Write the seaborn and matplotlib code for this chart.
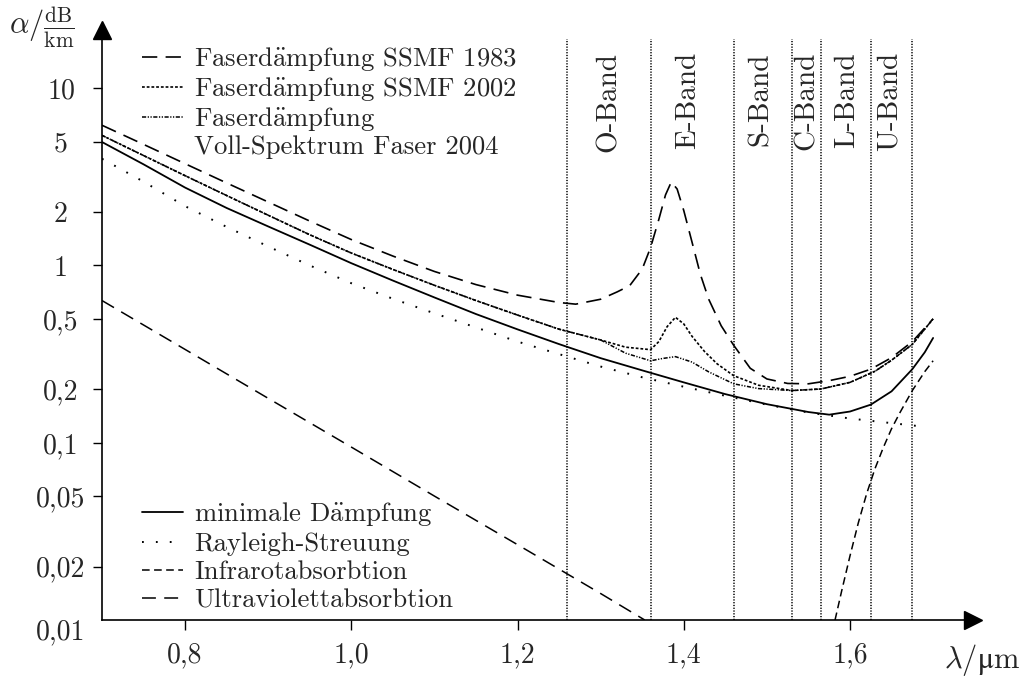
import matplotlib
matplotlib.use("Agg")
import matplotlib.pyplot as plt
import seaborn as sns
import numpy as np
import pandas as pd
from matplotlib.lines import Line2D
from matplotlib.ticker import NullLocator

# ---------------- data ----------------
lam_min = [0.70, 0.75, 0.80, 0.85, 0.90, 0.95, 1.00, 1.05, 1.10, 1.15, 1.20, 1.25,
           1.30, 1.35, 1.40, 1.45, 1.50, 1.55, 1.575, 1.60, 1.625, 1.65, 1.675, 1.69, 1.70]
att_min = [4.97, 3.72, 2.75, 2.11, 1.66, 1.31, 1.03, 0.822, 0.66, 0.532, 0.436, 0.36,
           0.30, 0.256, 0.219, 0.188, 0.165, 0.149, 0.144, 0.150, 0.164, 0.195, 0.26, 0.324, 0.39]

lam_ray = [0.70, 0.75, 0.80, 0.85, 0.90, 0.95, 1.00, 1.05, 1.10, 1.15, 1.20, 1.25,
           1.30, 1.35, 1.40, 1.45, 1.50, 1.55, 1.60, 1.65, 1.69]
att_ray = [4.0, 2.97, 2.16, 1.65, 1.28, 1.00, 0.794, 0.649, 0.537, 0.447, 0.372, 0.316,
           0.269, 0.234, 0.207, 0.184, 0.164, 0.148, 0.137, 0.129, 0.123]

lam_1983 = [0.70, 0.75, 0.80, 0.85, 0.90, 0.95, 1.00, 1.05, 1.10, 1.15, 1.20, 1.25, 1.27,
            1.30, 1.32, 1.335, 1.35, 1.36, 1.37, 1.378, 1.385, 1.392, 1.40, 1.41, 1.42,
            1.43, 1.445, 1.46, 1.48, 1.50, 1.525, 1.55, 1.575, 1.60, 1.625, 1.65, 1.675, 1.70]
att_1983 = [6.18, 4.82, 3.75, 2.92, 2.28, 1.78, 1.40, 1.13, 0.925, 0.78, 0.68, 0.618, 0.605,
            0.645, 0.71, 0.77, 0.955, 1.26, 1.82, 2.5, 2.96, 2.7, 2.04, 1.35, 0.89,
            0.645, 0.457, 0.355, 0.263, 0.229, 0.216, 0.215, 0.224, 0.237, 0.26, 0.302, 0.372, 0.50]

lam_2004 = [0.70, 0.75, 0.80, 0.85, 0.90, 0.95, 1.00, 1.05, 1.10, 1.15, 1.20, 1.25, 1.30,
            1.33, 1.36, 1.375, 1.39, 1.41, 1.43, 1.46, 1.49, 1.53, 1.565, 1.60, 1.63, 1.65,
            1.675, 1.70]
att_2004 = [5.42, 4.17, 3.21, 2.48, 1.92, 1.49, 1.175, 0.95, 0.773, 0.634, 0.525, 0.437, 0.38,
            0.32, 0.29, 0.299, 0.306, 0.285, 0.251, 0.215, 0.202, 0.197, 0.201, 0.219, 0.253, 0.292,
            0.359, 0.50]

lam_2002 = [0.70, 0.75, 0.80, 0.85, 0.90, 0.95, 1.00, 1.05, 1.10, 1.15, 1.20, 1.25, 1.30,
            1.33, 1.36, 1.37, 1.38, 1.39, 1.40, 1.41, 1.425, 1.44, 1.46, 1.49, 1.53, 1.565,
            1.60, 1.63, 1.65, 1.675, 1.70]
att_2002 = [5.42, 4.17, 3.21, 2.48, 1.92, 1.49, 1.175, 0.95, 0.773, 0.634, 0.525, 0.437, 0.38,
            0.346, 0.335, 0.372, 0.452, 0.51, 0.468, 0.398, 0.327, 0.279, 0.239, 0.211, 0.197, 0.201,
            0.219, 0.253, 0.292, 0.359, 0.50]

lam_uv = [0.70, 0.80, 0.90, 1.00, 1.10, 1.20, 1.30, 1.353]
att_uv = [0.634, 0.336, 0.178, 0.0945, 0.050, 0.0266, 0.0141, 0.010]

lam_ir = [1.582, 1.59, 1.60, 1.61, 1.62, 1.63, 1.64, 1.65, 1.66, 1.675, 1.69, 1.70]
att_ir = [0.010, 0.0146, 0.023, 0.0353, 0.0515, 0.0713, 0.0937, 0.12, 0.1476, 0.197, 0.252, 0.29]

band_edges = [1.26, 1.36, 1.46, 1.53, 1.565, 1.625, 1.675]
band_names = ["O-Band", "E-Band", "S-Band", "C-Band", "L-Band", "U-Band"]
band_label_x = [1.310, 1.405, 1.492, 1.548, 1.596, 1.648]

y_ticks = [0.02, 0.05, 0.1, 0.2, 0.5, 1, 2, 5, 10]
y_ticklabels = ["0,02", "0,05", "0,1", "0,2", "0,5", "1", "2", "5", "10"]
x_ticks = [0.8, 1.0, 1.2, 1.4, 1.6]
x_ticklabels = ["0,8", "1,0", "1,2", "1,4", "1,6"]

AE = r"$\ddot{\mathrm{a}}$"
legend_top = ["Faserd" + AE + "mpfung SSMF 1983", "Faserd" + AE + "mpfung SSMF 2002",
              "Faserd" + AE + "mpfung", "Voll-Spektrum Faser 2004"]
legend_bottom = ["minimale D" + AE + "mpfung", "Rayleigh-Streuung", "Infrarotabsorbtion",
                 "Ultraviolettabsorbtion"]

# ---------------- style ----------------
sns.set_style("ticks")
plt.rcParams["font.family"] = ["cmr10", "DejaVu Serif"]
plt.rcParams["mathtext.fontset"] = "cm"
plt.rcParams["axes.formatter.use_mathtext"] = True
plt.rcParams["lines.scale_dashes"] = False
FS = 20
FS_LEG = 19.2

fig = plt.figure(figsize=(10.27, 6.78), dpi=100)
W, H = 1027, 678
ax = fig.add_axes([102 / W, 1 - 620 / H, 871 / W, 590 / H])

LS_1983 = (0, (11, 6))
LS_2002 = (0, (2.0, 1.4))
LS_2004 = (0, (3.0, 1.1, 0.9, 1.1, 0.9, 1.1))
LS_RAY = (0, (1.3, 8.7))
LS_IR = (0, (5.5, 3.2))
LS_UV = (0, (10, 6))

def draw(lam, att, lw, ls):
    sns.lineplot(x=lam, y=att, ax=ax, color="black", linewidth=lw, linestyle=ls,
                 errorbar=None, legend=False)

draw(lam_uv, att_uv, 1.1, LS_UV)
draw(lam_ir, att_ir, 1.1, LS_IR)
draw(lam_ray, att_ray, 1.4, LS_RAY)
draw(lam_1983, att_1983, 1.2, LS_1983)
draw(lam_2002, att_2002, 1.2, LS_2002)
draw(lam_2004, att_2004, 1.1, LS_2004)
draw(lam_min, att_min, 1.3, "-")

ax.set_yscale("log")
ax.set_xlim(0.7, 1.748)
ax.set_ylim(0.01, 21.3)

# band borders and names
ax.vlines(band_edges, 0.01, 18.9, colors="black", linewidth=1.1, linestyles=[(0, (0.9, 1.1))])
for bx, name in zip(band_label_x, band_names):
    ax.text(bx, 16.0, name, rotation=90, ha="center", va="top", fontsize=21)

# axes / spines
for s in ["top", "right"]:
    ax.spines[s].set_visible(False)
for s in ["left", "bottom"]:
    ax.spines[s].set_linewidth(1.2)
    ax.spines[s].set_color("black")
ax.plot(1, 0, marker=">", color="black", markersize=13, transform=ax.transAxes, clip_on=False)
ax.plot(0, 1, marker="^", color="black", markersize=13, transform=ax.transAxes, clip_on=False)

ax.yaxis.set_minor_locator(NullLocator())
ax.set_yticks(y_ticks)
ax.set_yticklabels(y_ticklabels)
ax.set_xticks(x_ticks)
ax.set_xticklabels(x_ticklabels)
ax.tick_params(axis="y", direction="out", length=6.5, width=1.0, pad=23, labelsize=FS, color="black")
ax.tick_params(axis="x", direction="out", length=7, width=1.0, pad=9, labelsize=FS, color="black")
for lab in ax.get_yticklabels():
    lab.set_ha("center")
ax.annotate("0,01", xy=(0, 0.01), xycoords=("axes fraction", "data"), xytext=(-29.5, -8.5),
            textcoords="offset points", ha="center", va="center", fontsize=FS)

fig.text(42 / W, 1 - 28 / H, r"$\alpha/\frac{\mathrm{dB}}{\mathrm{km}}$", ha="center", va="center",
         fontsize=FS + 2)
fig.text(982 / W, 1 - 660 / H, r"$\lambda/\mathrm{μm}$", ha="center", va="center", fontsize=FS + 2)

# legends
hl = lambda ls, lw: Line2D([], [], color="black", linestyle=ls, linewidth=lw)
leg1 = ax.legend(
    handles=[hl(LS_1983, 1.2), hl(LS_2002, 1.2), hl(LS_2004, 1.1), Line2D([], [], linestyle="none")],
    labels=legend_top,
    loc="upper left", bbox_to_anchor=(142 / W, 1 - 45 / H), bbox_transform=fig.transFigure,
    frameon=False, fontsize=FS_LEG, handlelength=1.55, handletextpad=0.4, labelspacing=0.08,
    borderpad=0, borderaxespad=0)
ax.add_artist(leg1)
ax.legend(
    handles=[hl("-", 1.3), hl(LS_RAY, 1.4), hl(LS_IR, 1.1), hl(LS_UV, 1.1)],
    labels=legend_bottom,
    loc="lower left", bbox_to_anchor=(142 / W, 1 - 612 / H), bbox_transform=fig.transFigure,
    frameon=False, fontsize=FS_LEG, handlelength=1.55, handletextpad=0.4, labelspacing=0.16,
    borderpad=0, borderaxespad=0)

fig.savefig("out.png", dpi=100)
